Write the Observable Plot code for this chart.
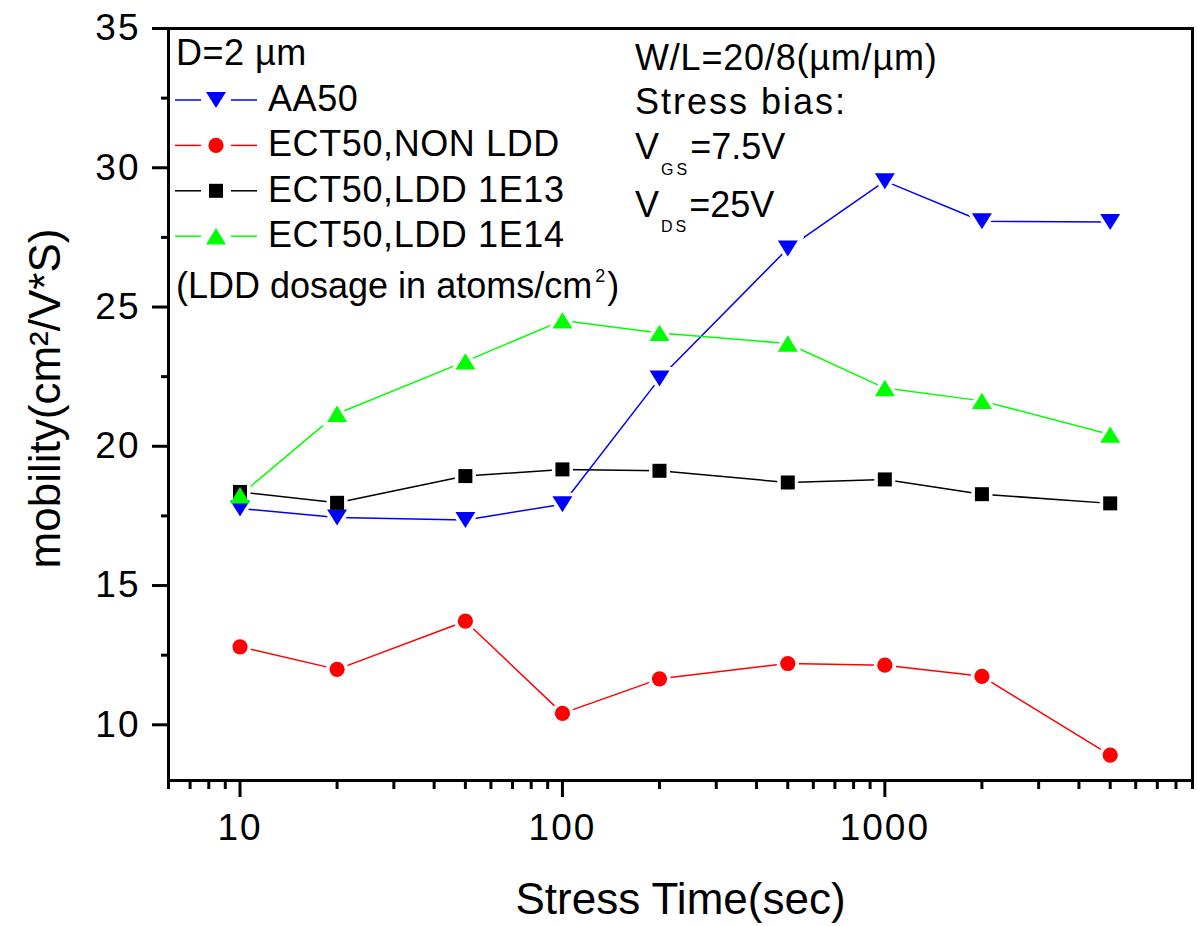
<!DOCTYPE html>
<html><head><meta charset="utf-8">
<script src="https://cdn.jsdelivr.net/npm/d3@7"></script>
<script src="https://cdn.jsdelivr.net/npm/@observablehq/plot@0.6"></script>
<style>
body{margin:0;background:#fff;}
#wrap{position:relative;width:1197px;height:926px;font-family:"Liberation Sans",Arial,sans-serif;}
#wrap svg{position:absolute;left:0;top:0;overflow:visible;}
g[aria-label="x-axis tick label"] text, g[aria-label="y-axis tick label"] text{letter-spacing:2px;}
</style></head><body><div id="wrap"></div>
<script>
// ---- data ----
const times = [10, 20, 50, 100, 200, 500, 1000, 2000, 5000];
const seriesNames = ["AA50", "ECT50,NON LDD", "ECT50,LDD 1E13", "ECT50,LDD 1E14"];
const aa50       = [17.77, 17.44, 17.35, 17.92, 22.43, 27.10, 29.52, 28.08, 28.05];
const ectNonLdd  = [12.80, 11.99, 13.72, 10.41, 11.65, 12.20, 12.14, 11.74, 8.91];
const ectLdd1e13 = [18.36, 17.97, 18.93, 19.17, 19.12, 18.70, 18.81, 18.28, 17.95];
const ectLdd1e14 = [18.24, 21.17, 23.05, 24.52, 24.07, 23.69, 22.09, 21.63, 20.42];
const seriesColors = ["#0000ff", "#ff0000", "#000000", "#00ff00"];
const xMajorTicks = [10, 100, 1000];
const xMinorTicks = [6, 7, 8, 9, 20, 30, 40, 50, 60, 70, 80, 90, 200, 300, 400, 500, 600, 700, 800, 900, 2000, 3000, 4000, 5000, 6000, 7000, 8000, 9000];
const yMajorTicks = [10, 15, 20, 25, 30, 35];
const yMinorTicks = [12.5, 17.5, 22.5, 27.5, 32.5];
const xTitle = "Stress Time(sec)";
const yTitle = "mobility(cm²/V*S)";

// ---- symbols (Origin-like, centred on bounding box) ----
const rad = size => Math.sqrt(size / Math.PI);
const triDown = {draw(c, s){const r = rad(s), w = r, h = 0.8 * r; c.moveTo(-w, -h); c.lineTo(w, -h); c.lineTo(0, h); c.closePath();}};
const triUp   = {draw(c, s){const r = rad(s), w = r, h = 0.82 * r; c.moveTo(0, -h); c.lineTo(w, h); c.lineTo(-w, h); c.closePath();}};
const square  = {draw(c, s){const r = rad(s), a = 0.7 * r; c.moveTo(-a, -a); c.lineTo(a, -a); c.lineTo(a, a); c.lineTo(-a, a); c.closePath();}};
const circle  = {draw(c, s){const r = rad(s), a = 0.76 * r; c.moveTo(a, 0); c.arc(0, 0, a, 0, 2 * Math.PI);}};
const seriesSymbols = [triDown, circle, square, triUp];
const seriesValues = [aa50, ectNonLdd, ectLdd1e13, ectLdd1e14];

const series = seriesNames.map((name, i) => ({
  name, color: seriesColors[i], symbol: seriesSymbols[i],
  rows: times.map((t, j) => ({t, v: seriesValues[i][j]}))
}));

const font = '"Liberation Sans", Arial, sans-serif';

const chart = Plot.plot({
  width: 1197, height: 926,
  marginLeft: 168, marginRight: 5, marginTop: 28, marginBottom: 146,
  x: {type: "log", domain: [6, 9000]},
  y: {domain: [8, 35]},
  style: {fontFamily: font, fontSize: "37px", color: "black", background: "transparent", overflow: "visible"},
  marks: [
    Plot.axisX(xMinorTicks, {tickSize: 9, tickFormat: () => "", strokeWidth: 3, label: null}),
    Plot.axisX(xMajorTicks, {tickSize: 17, tickPadding: 16, tickFormat: d => String(d), strokeWidth: 3, fontSize: 37, label: null}),
    Plot.axisY(yMinorTicks, {tickSize: 7, tickFormat: () => "", strokeWidth: 3, label: null}),
    Plot.axisY(yMajorTicks, {tickSize: 16, tickPadding: 12, tickFormat: d => String(d), strokeWidth: 3, fontSize: 37, label: null}),
    ...series.map(s => Plot.line(s.rows, {x: "t", y: "v", stroke: s.color, strokeWidth: 1.5})),
    ...series.map(s => Plot.dot(s.rows, {x: "t", y: "v", r: 10, symbol: s.symbol, fill: "white", stroke: "white", strokeWidth: 7})),
    ...series.map(s => Plot.dot(s.rows, {x: "t", y: "v", r: 10, symbol: s.symbol, fill: s.color, stroke: "none"})),
    Plot.frame({stroke: "black", strokeWidth: 3}),
    Plot.text([xTitle], {text: d => d, frameAnchor: "bottom", dy: 119, fontSize: 44, lineAnchor: "middle", textAnchor: "middle"}),
    Plot.text([yTitle], {text: d => d, frameAnchor: "left", dx: -123, dy: -6, rotate: -90, fontSize: 44, lineAnchor: "middle", textAnchor: "middle"})
  ]
});
const wrap = document.getElementById("wrap");
wrap.appendChild(chart);

// ---- in-plot legend and annotation (overlay) ----
const ov = d3.select(wrap).append("svg").attr("width", 1197).attr("height", 926)
  .style("font-family", font).style("pointer-events", "none");

ov.append("text").attr("x", 176).attr("y", 65).attr("font-size", 36).style("letter-spacing", "0.5px").text("D=2 µm");
series.forEach((s, i) => {
  const cy = 100 + i * 45.4;
  const g = ov.append("g");
  g.append("line").attr("x1", 175).attr("x2", 201).attr("y1", cy).attr("y2", cy).attr("stroke", s.color).attr("stroke-width", 1.5);
  g.append("line").attr("x1", 231).attr("x2", 257).attr("y1", cy).attr("y2", cy).attr("stroke", s.color).attr("stroke-width", 1.5);
  g.append("path").attr("transform", `translate(216,${cy})`).attr("d", d3.symbol(s.symbol, 100 * Math.PI)()).attr("fill", s.color);
  g.append("text").attr("x", 268).attr("y", cy + 11).attr("font-size", 36).style("letter-spacing", "0.6px").text(s.name);
});
const dos = ov.append("text").attr("x", 176).attr("y", 298).attr("font-size", 36);
dos.append("tspan").text("(LDD dosage in atoms/cm");
dos.append("tspan").attr("font-size", 18).attr("dy", -16).attr("dx", 3).text("2");
dos.append("tspan").attr("dy", 16).attr("dx", 2).text(")");

ov.append("text").attr("x", 635).attr("y", 70).attr("font-size", 36).style("letter-spacing", "0.8px").text("W/L=20/8(µm/µm)");
ov.append("text").attr("x", 635).attr("y", 114).attr("font-size", 36).style("letter-spacing", "2px").text("Stress bias:");
const vgs = ov.append("text").attr("x", 635).attr("y", 159).attr("font-size", 36);
vgs.append("tspan").text("V");
vgs.append("tspan").attr("font-size", 16).attr("dy", 16).attr("dx", 2).style("letter-spacing", "3px").text("GS");
vgs.append("tspan").attr("dy", -16).text("=7.5V");
const vds = ov.append("text").attr("x", 635).attr("y", 217).attr("font-size", 36);
vds.append("tspan").text("V");
vds.append("tspan").attr("font-size", 16).attr("dy", 15).attr("dx", 2).style("letter-spacing", "3px").text("DS");
vds.append("tspan").attr("dy", -15).text("=25V");
</script></body></html>
